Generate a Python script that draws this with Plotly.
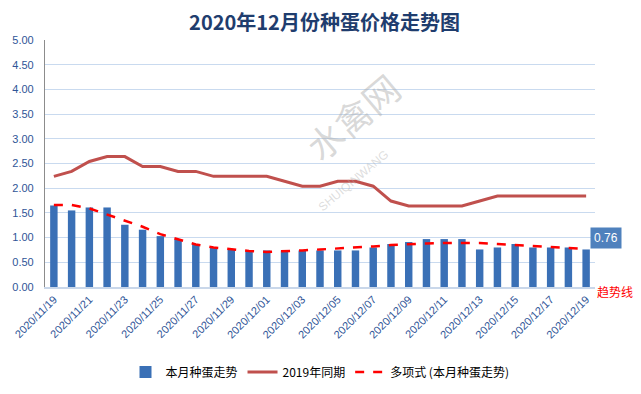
import plotly.graph_objects as go

dates = ["2020/11/19","2020/11/20","2020/11/21","2020/11/22","2020/11/23","2020/11/24","2020/11/25",
         "2020/11/26","2020/11/27","2020/11/28","2020/11/29","2020/11/30","2020/12/01","2020/12/02",
         "2020/12/03","2020/12/04","2020/12/05","2020/12/06","2020/12/07","2020/12/08","2020/12/09",
         "2020/12/10","2020/12/11","2020/12/12","2020/12/13","2020/12/14","2020/12/15","2020/12/16",
         "2020/12/17","2020/12/18","2020/12/19"]
this_month = [1.65,1.55,1.61,1.61,1.26,1.16,1.03,0.97,0.87,0.79,0.76,0.74,0.74,0.74,0.74,0.74,
              0.74,0.74,0.80,0.87,0.91,0.97,0.97,0.97,0.76,0.80,0.87,0.80,0.80,0.80,0.76]
last_year = [2.24,2.34,2.54,2.64,2.64,2.44,2.44,2.34,2.34,2.24,2.24,2.24,2.24,2.14,2.04,2.04,
             2.14,2.14,2.04,1.74,1.64,1.64,1.64,1.64,1.74,1.84,1.84,1.84,1.84,1.84,1.84]
trend = [1.66,1.66,1.59,1.47,1.35,1.22,1.07,0.96,0.86,0.80,0.76,0.73,0.71,0.72,0.74,0.76,
         0.78,0.79,0.82,0.85,0.87,0.88,0.89,0.89,0.89,0.87,0.85,0.83,0.81,0.80,0.77]
tick_labels = dates[::2]
y_ticks = [0, 0.5, 1, 1.5, 2, 2.5, 3, 3.5, 4, 4.5, 5]

font_cjk = "Noto Sans CJK SC"
blue_txt = "#2F5597"

fig = go.Figure()
fig.add_trace(go.Bar(x=dates, y=this_month, name="本月种蛋走势",
                     marker=dict(color="#3A70B6", line=dict(width=0)), width=0.42))
fig.add_trace(go.Scatter(x=dates, y=last_year, name="2019年同期", mode="lines",
                         line=dict(color="#C0504D", width=3)))
fig.add_trace(go.Scatter(x=dates, y=trend, name="多项式 (本月种蛋走势)", mode="lines",
                         line=dict(color="#FF0000", width=2.5, dash="dash")))

# page body has an 8px default margin, so the figure is sized to fill the remaining window
fig.update_layout(
    width=633, height=386,
    margin=dict(l=37, r=46, t=32, b=107, autoexpand=False),
    paper_bgcolor="white", plot_bgcolor="white",
    font=dict(family=font_cjk, size=11, color="#000000"),
    title=dict(text="<b>2020年12月份种蛋价格走势图</b>", x=0.5, xanchor="center", y=0.962, yanchor="middle",
               font=dict(family=font_cjk, size=20, color="#1F3D6E")),
    showlegend=True,
    legend=dict(orientation="h", x=0.5, xanchor="center", y=-0.344, yanchor="middle",
                font=dict(family=font_cjk, size=12, color="#000"), traceorder="normal",
                itemwidth=30),
    xaxis=dict(type="category", tickmode="array", tickvals=tick_labels, ticktext=tick_labels,
               tickangle=-45, tickfont=dict(size=11, color=blue_txt, family="Liberation Sans"),
               showgrid=False, showline=True, linecolor="#C9D7EA", linewidth=1.5,
               range=[-0.5, 30.5], ticks="", automargin=False),
    yaxis=dict(range=[0, 5], tickvals=y_ticks, tickformat=".2f",
               tickfont=dict(size=11, color=blue_txt, family="Liberation Sans"),
               showgrid=True, gridcolor="#C9DAEF", gridwidth=1.2,
               showline=True, linecolor="#8C8C8C", linewidth=1.2, zeroline=False,
               ticks="", ticklabelstandoff=8, automargin=False),
)

# last value label
fig.add_annotation(x=dates[-1], y=this_month[-1], text=f"{this_month[-1]:.2f}", showarrow=False,
                   xanchor="left", yanchor="bottom", xshift=4, yshift=0,
                   bgcolor="#4F81BD", font=dict(color="white", size=12, family="Liberation Sans"),
                   borderpad=3)
fig.add_annotation(xref="paper", yref="paper", x=1.072, y=-0.02, text="趋势线", showarrow=False,
                   xanchor="right", yanchor="middle",
                   font=dict(color="#FF0000", size=12, family=font_cjk))
# watermark
fig.add_annotation(xref="paper", yref="paper", x=0.558, y=0.925, text="水禽网", showarrow=False,
                   textangle=-40, font=dict(color="rgba(170,170,170,0.45)", size=36, family=font_cjk))
fig.add_annotation(xref="paper", yref="paper", x=0.56, y=0.43, text="SHUIQINWANG", showarrow=False,
                   textangle=-40, font=dict(color="rgba(170,170,170,0.4)", size=12, family="Liberation Sans"))

fig.write_html("out.html")
